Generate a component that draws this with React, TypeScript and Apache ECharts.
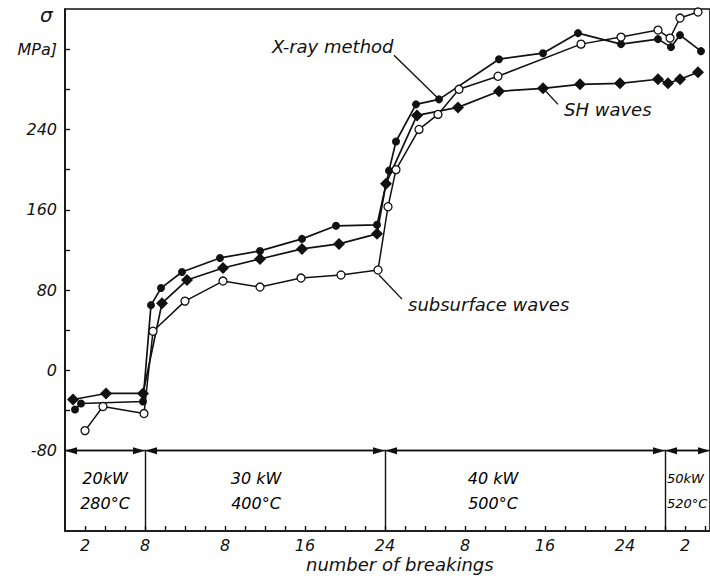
import React, { useEffect, useRef } from 'react';
import * as echarts from 'echarts';

// X-ray method (filled dots)
const xrayBreaking = [1.0, 1.6, 7.8, 8.6, 9.6, 11.7, 15.5, 19.5, 23.7, 27.1, 31.2, 32.4, 33.1, 35.1, 37.4, 43.4, 47.8, 51.3, 55.6, 59.3, 60.6, 61.5, 63.6];
const xrayStress = [-39, -33, -31, 65, 82, 98, 112, 119, 131, 144, 145, 199, 228, 265, 270, 310, 316, 336, 325, 330, 322, 334, 318];

// SH waves (filled diamonds)
const shBreaking = [0.8, 4.1, 7.8, 9.7, 12.2, 15.8, 19.5, 23.7, 27.4, 31.2, 32.1, 35.2, 39.3, 43.4, 47.8, 51.5, 55.5, 59.3, 60.3, 61.5, 63.3];
const shStress = [-29, -23, -23, 67, 90, 102, 111, 121, 126, 136, 186, 254, 262, 278, 281, 285, 286, 290, 286, 290, 297];

// subsurface waves (open circles)
const subBreaking = [2.0, 3.8, 7.9, 8.8, 12.0, 15.8, 19.5, 23.6, 27.6, 31.3, 32.3, 33.1, 35.4, 37.3, 39.4, 43.3, 51.6, 55.6, 59.3, 60.5, 61.5, 63.3];
const subStress = [-60, -36, -43, 39, 69, 89, 83, 92, 95, 100, 163, 200, 240, 255, 280, 293, 325, 332, 339, 331, 351, 357];

// axis ticks / labels
const yLabelValues = [-80, 0, 80, 160, 240, 320];
const yTickValues = [-80, -40, 0, 40, 80, 120, 160, 200, 240, 280, 320];
const xLabelValues = [2, 8, 16, 24, 32, 40, 48, 56, 62];
const xTickValues = [2, 4, 6, 8, 10, 12, 14, 16, 18, 20, 22, 24, 26, 28, 30, 32, 34, 36, 38, 40, 42, 44, 46, 48, 50, 52, 54, 56, 58, 60, 62, 64];

// heating sections
const sectionStart = [0, 8, 32, 60];
const sectionEnd = [8, 32, 60, 64.5];
const sectionText = ['20kW\n280°C', '30 kW\n400°C', '40 kW\n500°C', '50kW\n520°C'];
const sectionTextX = [4.0, 19.1, 42.8, 60.2];
const sectionTextSize = [16, 16, 16, 13];
const sectionTextAlign = ['center', 'center', 'center', 'left'];
const sectionTextY = -120;
const sectionLineY = -80;
const axisMinY = -160;

// callouts: [text point, marker point]
const xrayLeader = [[32.9, 314], [37.2, 272]];
const shLeader = [[49.3, 265], [47.8, 281]];
const subLeader = [[33.7, 71], [31.4, 95]];

const INK = '#111';
const FONT = 'DejaVu Sans';

function localBreaking(v: number): number {
  if (v <= 8) return v;
  if (v <= 32) return v - 8;
  if (v <= 60) return v - 32;
  return v - 60;
}

function zip(a: number[], b: number[]) {
  return a.map((x, i) => [x, b[i]]);
}

export default function App() {
  const ref = useRef<HTMLDivElement>(null);
  useEffect(() => {
    if (!ref.current) return;
    const chart = echarts.init(ref.current, null, { renderer: 'svg' });
    const arrowHalf = 0.6;
    const textStyle = { fontFamily: FONT, fontStyle: 'italic', fontSize: 16, fill: INK };
    const option: any = {
      animation: false,
      backgroundColor: '#fff',
      grid: {
        left: 65,
        right: -6,
        top: 9,
        bottom: 50,
        show: true,
        borderColor: INK,
        borderWidth: 1.6,
        backgroundColor: 'transparent',
      },
      xAxis: {
        type: 'value',
        min: 0,
        max: 64.5,
        axisLine: { show: true, onZero: false, lineStyle: { color: INK, width: 1.6 } },
        axisTick: { show: true, inside: true, length: 5, customValues: xTickValues, lineStyle: { color: INK, width: 1.4 } },
        axisLabel: {
          customValues: xLabelValues,
          formatter: (v: number) => String(localBreaking(v)),
          color: INK,
          fontFamily: FONT,
          fontStyle: 'italic',
          fontSize: 16,
          margin: 6,
        },
        splitLine: { show: false },
      },
      yAxis: {
        type: 'value',
        min: axisMinY,
        max: 360,
        axisLine: { show: true, onZero: false, lineStyle: { color: INK, width: 1.6 } },
        axisTick: { show: true, inside: true, length: 5, customValues: yTickValues, lineStyle: { color: INK, width: 1.4 } },
        axisLabel: {
          customValues: yLabelValues,
          formatter: (v: number) => (v === 320 ? 'MPa]' : String(v)),
          color: INK,
          fontFamily: FONT,
          fontStyle: 'italic',
          fontSize: 16,
          margin: 8,
        },
        splitLine: { show: false },
      },
      series: [
        {
          name: 'X-ray method',
          type: 'line',
          data: zip(xrayBreaking, xrayStress),
          symbol: 'circle',
          symbolSize: 8,
          itemStyle: { color: INK },
          lineStyle: { color: INK, width: 1.7 },
          z: 3,
          markLine: {
            silent: true,
            symbol: ['triangle', 'triangle'],
            symbolSize: [7, 12],
            label: { show: false },
            lineStyle: { color: INK, width: 1.4, type: 'solid' },
            data: sectionStart.map((s, i) => [
              { coord: [s + arrowHalf, sectionLineY] },
              { coord: [sectionEnd[i] - arrowHalf, sectionLineY] },
            ]),
          },
        },
        {
          name: 'SH waves',
          type: 'line',
          data: zip(shBreaking, shStress),
          symbol: 'diamond',
          symbolSize: 12,
          itemStyle: { color: INK },
          lineStyle: { color: INK, width: 1.7 },
          z: 3,
        },
        {
          name: 'subsurface waves',
          type: 'line',
          data: zip(subBreaking, subStress),
          symbol: 'circle',
          symbolSize: 8,
          itemStyle: { color: '#fff', borderColor: INK, borderWidth: 1.3 },
          lineStyle: { color: INK, width: 1.5 },
          z: 4,
          markLine: {
            silent: true,
            symbol: ['none', 'none'],
            label: { show: false },
            lineStyle: { color: INK, width: 1.4, type: 'solid' },
            data: [
              [{ coord: [0, sectionLineY] }, { coord: [64.5, sectionLineY] }],
              ...sectionEnd.slice(0, 3).map((e) => [
                { coord: [e, sectionLineY] },
                { coord: [e, axisMinY] },
              ]),
              [{ coord: xrayLeader[0] }, { coord: xrayLeader[1] }],
              [{ coord: shLeader[0] }, { coord: shLeader[1] }],
              [{ coord: subLeader[0] }, { coord: subLeader[1] }],
            ],
          },
        },
        {
          name: 'sections',
          type: 'scatter',
          symbolSize: 0,
          silent: true,
          data: sectionTextX.map((x, i) => ({
            value: [x, sectionTextY],
            name: sectionText[i],
            label: { fontSize: sectionTextSize[i], align: sectionTextAlign[i] },
          })),
          label: {
            show: true,
            position: 'inside',
            formatter: (p: any) => p.name,
            color: '#000',
            opacity: 1,
            fontFamily: FONT,
            fontStyle: 'italic',
            fontSize: 16,
            lineHeight: 25,
            align: 'center',
          },
        },
      ],
      graphic: [
        { type: 'text', left: 40, top: 5, style: { ...textStyle, text: 'σ', fontSize: 20 } },
        { type: 'text', left: 272, top: 37, style: { ...textStyle, text: 'X-ray method', fontSize: 18 } },
        { type: 'text', left: 564, top: 100, style: { ...textStyle, text: 'SH waves', fontSize: 18 } },
        { type: 'text', left: 408, top: 295, style: { ...textStyle, text: 'subsurface waves', fontSize: 18 } },
        { type: 'text', left: 306, top: 555, style: { ...textStyle, text: 'number of breakings', fontSize: 18 } },
      ],
    };
    chart.setOption(option);
    return () => chart.dispose();
  }, []);
  return (
    <div
      ref={ref}
      style={{ position: 'fixed', left: 0, top: 0, width: 710, height: 581, background: '#fff' }}
    />
  );
}
